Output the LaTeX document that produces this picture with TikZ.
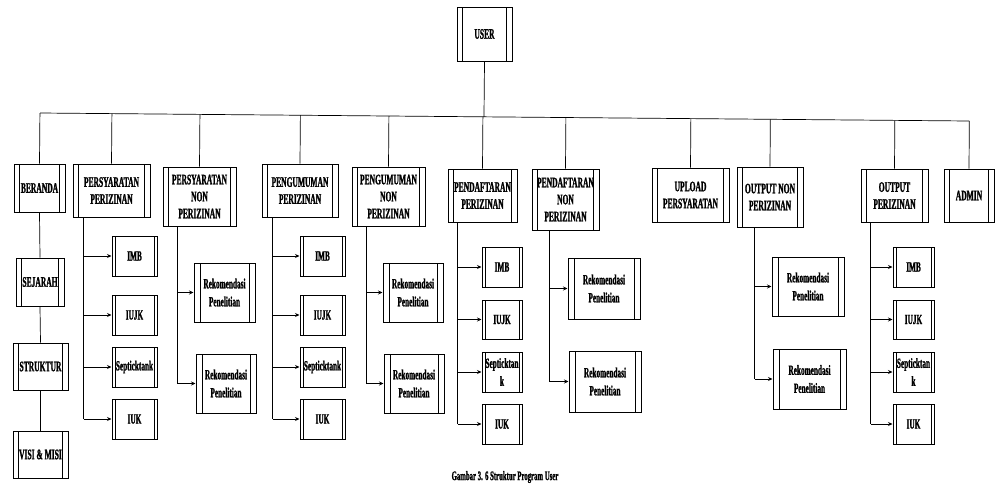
\documentclass[tikz,border=0pt]{standalone}
\usepackage{fontspec}
\newfontfamily\cf[FakeStretch=0.52,FakeBold=1.2]{Liberation Serif Bold}
\usetikzlibrary{arrows.meta,calc}
\tikzset{
  pbox/.style={draw, line width=1pt, align=center, inner sep=0pt, fill=white,
    font=\cf\fontsize{14.5}{17}\selectfont,
    path picture={\draw[line width=0.7pt]
      ([xshift=#1]path picture bounding box.north west) -- ([xshift=#1]path picture bounding box.south west)
      ([xshift=-#1]path picture bounding box.north east) -- ([xshift=-#1]path picture bounding box.south east);}},
  pbox/.default=5.5pt,
  cbox/.style={pbox=#1, font=\cf\fontsize{14}{18}\selectfont},
  cbox/.default=3pt,
  conn/.style={line width=0.7pt},
  arr/.style={line width=0.7pt, -{Stealth[length=4.5pt,width=4pt]}},
}
\begin{document}
\begin{tikzpicture}[x=1pt,y=-1pt]
\useasboundingbox (0,0) rectangle (1002,491);
% top level
\node[pbox, minimum width=55, minimum height=54] (user) at (484.5,34) {USER};
\node[pbox, minimum width=51, minimum height=48] (beranda) at (39.5,188) {BERANDA};
\node[pbox, minimum width=77, minimum height=53] (persy) at (111.5,190.5) {PERSYARATAN\\PERIZINAN};
\node[pbox, minimum width=73, minimum height=59] (persynon) at (199.5,196.5) {PERSYARATAN\\NON\\PERIZINAN};
\node[pbox, minimum width=76, minimum height=53] (peng) at (300,190.5) {PENGUMUMAN\\PERIZINAN};
\node[pbox, minimum width=73, minimum height=59] (pengnon) at (388.5,196.5) {PENGUMUMAN\\NON\\PERIZINAN};
\node[pbox, minimum width=69, minimum height=53] (pend) at (482.5,195.5) {PENDAFTARAN\\PERIZINAN};
\node[pbox, minimum width=67, minimum height=61] (pendnon) at (565.5,199.5) {PENDAFTARAN\\NON\\PERIZINAN};
\node[pbox, minimum width=77, minimum height=54] (upload) at (690.5,195) {UPLOAD\\PERSYARATAN};
\node[pbox, minimum width=66, minimum height=60] (outnon) at (770,197) {OUTPUT NON\\PERIZINAN};
\node[pbox, minimum width=67, minimum height=53] (out) at (894.5,195.5) {OUTPUT\\PERIZINAN};
\node[pbox, minimum width=50, minimum height=53] (admin) at (969,195.5) {ADMIN};
% bus
\coordinate (busL) at (40,113);
\coordinate (busR) at (969,121);
\draw[conn] (busL) -- (busR);
\draw[conn] (user.south) -- ($(busL)!(user.south)!(busR)$);
\foreach \n in {beranda,persy,persynon,peng,pengnon,pend,pendnon,upload,outnon,out,admin}
  \draw[conn] (\n.north) -- ($(busL)!(\n.north)!(busR)$);
% beranda column
\node[pbox, minimum width=48, minimum height=48] (sejarah) at (40,282) {SEJARAH};
\node[pbox, minimum width=55, minimum height=47] (struktur) at (40.5,366.5) {STRUKTUR};
\node[pbox, minimum width=55, minimum height=47] (visi) at (40.5,454.5) {VISI \& MISI};
\draw[conn] (beranda.south) -- (sejarah.north);
\draw[conn] (sejarah.south) -- (struktur.north);
\draw[conn] (struktur.south) -- (visi.north);
% persyaratan perizinan children
\node[cbox, minimum width=45, minimum height=40] (a1) at (134.5,256) {IMB};
\node[cbox, minimum width=45, minimum height=40] (a2) at (134.5,315) {IUJK};
\node[cbox, minimum width=45, minimum height=40] (a3) at (134.5,367) {Septicktank};
\node[cbox, minimum width=45, minimum height=40] (a4) at (134.5,419) {IUK};
\draw[conn] (persy.south west) ++(11,0) coordinate (ta) -- (ta |- a4.west);
\foreach \c in {a1,a2,a3,a4} \draw[arr] (ta |- \c.west) -- (\c.west);
% persyaratan non perizinan children
\node[cbox=6pt, minimum width=61, minimum height=59] (b1) at (224.5,292.5) {Rekomendasi\\Penelitian};
\node[cbox=6pt, minimum width=60, minimum height=59] (b2) at (226,383.5) {Rekomendasi\\Penelitian};
\draw[conn] (persynon.south west) ++(15,0) coordinate (tb) -- (tb |- b2.west);
\foreach \c in {b1,b2} \draw[arr] (tb |- \c.west) -- (\c.west);
% pengumuman perizinan children
\node[cbox, minimum width=45, minimum height=40] (c1) at (322.5,256) {IMB};
\node[cbox, minimum width=45, minimum height=40] (c2) at (322.5,315) {IUJK};
\node[cbox, minimum width=45, minimum height=40] (c3) at (322.5,367) {Septicktank};
\node[cbox, minimum width=45, minimum height=40] (c4) at (322.5,419) {IUK};
\draw[conn] (peng.south west) ++(11,0) coordinate (tc) -- (tc |- c4.west);
\foreach \c in {c1,c2,c3,c4} \draw[arr] (tc |- \c.west) -- (\c.west);
% pengumuman non perizinan children
\node[cbox=6pt, minimum width=60, minimum height=59] (d1) at (413,292.5) {Rekomendasi\\Penelitian};
\node[cbox=6pt, minimum width=60, minimum height=59] (d2) at (414,383.5) {Rekomendasi\\Penelitian};
\draw[conn] (pengnon.south west) ++(15,0) coordinate (td) -- (td |- d2.west);
\foreach \c in {d1,d2} \draw[arr] (td |- \c.west) -- (\c.west);
% pendaftaran perizinan children
\node[cbox, minimum width=40, minimum height=40] (e1) at (502,267) {IMB};
\node[cbox, minimum width=40, minimum height=39] (e2) at (502,319.5) {IUJK};
\node[cbox, minimum width=40, minimum height=40] (e3) at (502,372) {Septicktan\\k};
\node[cbox, minimum width=40, minimum height=40] (e4) at (502,424) {IUK};
\draw[conn] (pend.south west) ++(10,0) coordinate (te) -- (te |- e4.west);
\foreach \c in {e1,e2,e3,e4} \draw[arr] (te |- \c.west) -- (\c.west);
% pendaftaran non perizinan children
\node[cbox=6pt, minimum width=72, minimum height=61] (f1) at (604,288.5) {Rekomendasi\\Penelitian};
\node[cbox=6pt, minimum width=72, minimum height=61] (f2) at (605,381.5) {Rekomendasi\\Penelitian};
\draw[conn] (pendnon.south west) ++(18,0) coordinate (tf) -- (tf |- f2.west);
\foreach \c in {f1,f2} \draw[arr] (tf |- \c.west) -- (\c.west);
% output non perizinan children
\node[cbox=6pt, minimum width=72, minimum height=59] (g1) at (808,286.5) {Rekomendasi\\Penelitian};
\node[cbox=6pt, minimum width=73, minimum height=60] (g2) at (809.5,379) {Rekomendasi\\Penelitian};
\draw[conn] (outnon.south west) ++(18,0) coordinate (tg) -- (tg |- g2.west);
\foreach \c in {g1,g2} \draw[arr] (tg |- \c.west) -- (\c.west);
% output perizinan children
\node[cbox, minimum width=41, minimum height=40] (h1) at (913.5,267) {IMB};
\node[cbox, minimum width=41, minimum height=39] (h2) at (913.5,319.5) {IUJK};
\node[cbox, minimum width=41, minimum height=40] (h3) at (913.5,372) {Septicktan\\k};
\node[cbox, minimum width=41, minimum height=40] (h4) at (913.5,424) {IUK};
\draw[conn] (out.south west) ++(10,0) coordinate (th) -- (th |- h4.west);
\foreach \c in {h1,h2,h3,h4} \draw[arr] (th |- \c.west) -- (\c.west);
% caption
\node[font=\cf\fontsize{13}{15}\selectfont, inner sep=0pt] (cap) at (505,477) {Gambar 3. 6 Struktur Program User};
\end{tikzpicture}
\end{document}
